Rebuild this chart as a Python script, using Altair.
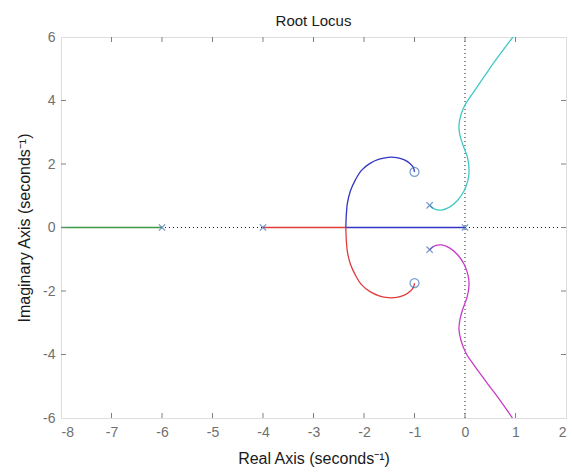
import altair as alt
import pandas as pd

# ---- data ----
green_x = [-6.0, -8.0]
green_y = [0.0, 0.0]

blue_line_x = [0.0, -2.36]
blue_line_y = [0.0, 0.0]
blue_x = [-2.36, -2.35, -2.33, -2.27, -2.17, -2.05, -1.88, -1.70, -1.52, -1.35, -1.20, -1.08, -1.02, -1.00]
blue_y = [0.0, 0.40, 0.75, 1.15, 1.50, 1.80, 2.02, 2.15, 2.21, 2.20, 2.13, 2.00, 1.88, 1.75]

red_line_x = [-4.0, -2.36]
red_line_y = [0.0, 0.0]
red_x = [-2.36, -2.35, -2.33, -2.27, -2.17, -2.05, -1.88, -1.70, -1.52, -1.35, -1.20, -1.08, -1.02, -1.00]
red_y = [0.0, -0.40, -0.75, -1.15, -1.50, -1.80, -2.02, -2.15, -2.21, -2.20, -2.13, -2.00, -1.88, -1.75]

cyan_x = [-0.70, -0.60, -0.46, -0.30, -0.15, -0.02, 0.06, 0.08, 0.05, -0.03, -0.10, -0.12, -0.08, 0.00, 0.12, 0.25, 0.40, 0.56, 0.75, 0.95]
cyan_y = [0.70, 0.58, 0.55, 0.65, 0.85, 1.15, 1.50, 1.80, 2.20, 2.55, 2.90, 3.20, 3.55, 3.86, 4.15, 4.45, 4.80, 5.17, 5.58, 6.00]

magenta_x = [-0.70, -0.60, -0.46, -0.30, -0.15, -0.02, 0.06, 0.08, 0.04, -0.04, -0.10, -0.12, -0.08, 0.02, 0.14, 0.30, 0.46, 0.63, 0.80, 0.94]
magenta_y = [-0.70, -0.58, -0.55, -0.65, -0.85, -1.15, -1.50, -1.80, -2.20, -2.55, -2.90, -3.20, -3.55, -3.96, -4.25, -4.60, -4.95, -5.30, -5.68, -6.00]

pole_x = [-6.0, -4.0, 0.0, -0.7, -0.7]
pole_y = [0.0, 0.0, 0.0, 0.7, -0.7]
zero_x = [-1.0, -1.0]
zero_y = [1.75, -1.75]

x_ticks = [-8, -7, -6, -5, -4, -3, -2, -1, 0, 1, 2]
y_ticks = [-6, -4, -2, 0, 2, 4, 6]

colors = {
    "green": "#3f9a48",
    "blue": "#3434c4",
    "red": "#e03c3c",
    "cyan": "#3ec9c6",
    "magenta": "#c63cc8",
}

W, H = 505, 381
FONT = "Liberation Sans"

rows = []
for name, color, xs_, ys_ in [("green", "green", green_x, green_y),
                              ("blue_line", "blue", blue_line_x, blue_line_y),
                              ("blue", "blue", blue_x, blue_y),
                              ("red_line", "red", red_line_x, red_line_y),
                              ("red", "red", red_x, red_y),
                              ("cyan", "cyan", cyan_x, cyan_y),
                              ("magenta", "magenta", magenta_x, magenta_y)]:
    for i, (a, b) in enumerate(zip(xs_, ys_)):
        rows.append({"branch": name, "color": color, "x": a, "y": b, "order": i})
branches = pd.DataFrame(rows)

xs = alt.Scale(domain=[-8, 2], nice=False, zero=False)
ys = alt.Scale(domain=[-6, 6], nice=False, zero=False)

x_axis = alt.Axis(values=x_ticks, title="Real Axis (seconds⁻¹)", grid=False, domain=False, tickSize=0,
                  labelPadding=7, labelFontSize=14, labelColor="#6f6f6f", labelFont=FONT,
                  labelExpr="toString(datum.value)",
                  titleFont=FONT, titleFontSize=16, titleFontWeight="normal", titleColor="#1a1a1a",
                  titlePadding=11)
y_axis = alt.Axis(values=y_ticks, title="Imaginary Axis (seconds⁻¹)", grid=False, domain=False, tickSize=0,
                  labelPadding=6, labelFontSize=14, labelColor="#6f6f6f", labelFont=FONT,
                  labelExpr="toString(datum.value)",
                  titleFont=FONT, titleFontSize=16, titleFontWeight="normal", titleColor="#1a1a1a",
                  titlePadding=10)

# dotted axes lines
zero_df = pd.DataFrame({"v": [0.0]})
hline = alt.Chart(zero_df).mark_rule(color="#222222", strokeDash=[1, 3], strokeWidth=1).encode(
    y=alt.Y("v:Q", scale=ys, axis=y_axis))
vline = alt.Chart(zero_df).mark_rule(color="#222222", strokeDash=[1, 3], strokeWidth=1).encode(
    x=alt.X("v:Q", scale=xs, axis=x_axis))

lines = alt.Chart(branches).mark_line(strokeWidth=1.3, interpolate="catmull-rom", clip=True).encode(
    x=alt.X("x:Q", scale=xs, axis=x_axis),
    y=alt.Y("y:Q", scale=ys, axis=y_axis),
    color=alt.Color("color:N", scale=alt.Scale(domain=list(colors.keys()),
                                               range=list(colors.values())), legend=None),
    detail="branch:N",
    order="order:Q",
)

poles = alt.Chart(pd.DataFrame({"x": pole_x, "y": pole_y})).mark_point(
    shape="M-1,-1L1,1M-1,1L1,-1", size=40, stroke="#3d6fb5", strokeWidth=1.3, filled=False).encode(
    x=alt.X("x:Q", scale=xs), y=alt.Y("y:Q", scale=ys))
zeros = alt.Chart(pd.DataFrame({"x": zero_x, "y": zero_y})).mark_point(
    shape="circle", size=80, stroke="#3d79b8", strokeWidth=1.3, filled=False).encode(
    x=alt.X("x:Q", scale=xs), y=alt.Y("y:Q", scale=ys))

# inward ticks on all four sides
xt = pd.DataFrame({"t": x_ticks[1:-1]})
yt = pd.DataFrame({"t": y_ticks[1:-1]})
tick_color = "#808080"
xt_bottom = alt.Chart(xt).mark_rule(color=tick_color).encode(
    x=alt.X("t:Q", scale=xs), y=alt.value(H), y2=alt.value(H - 5))
xt_top = alt.Chart(xt).mark_rule(color=tick_color).encode(
    x=alt.X("t:Q", scale=xs), y=alt.value(0), y2=alt.value(5))
yt_left = alt.Chart(yt).mark_rule(color=tick_color).encode(
    y=alt.Y("t:Q", scale=ys), x=alt.value(0), x2=alt.value(5))
yt_right = alt.Chart(yt).mark_rule(color=tick_color).encode(
    y=alt.Y("t:Q", scale=ys), x=alt.value(W), x2=alt.value(W - 5))

chart = alt.layer(hline, vline, lines, poles, zeros, xt_bottom, xt_top, yt_left, yt_right).properties(
    width=W, height=H,
    title=alt.TitleParams("Root Locus", font=FONT, fontSize=15, fontWeight="normal", color="#1a1a1a",
                          anchor="middle", offset=1),
    autosize=alt.AutoSizeParams(type="none"),
    padding={"left": 61, "top": 37, "right": 6, "bottom": 54},
).configure_view(stroke="#808080", strokeWidth=1).configure(background="white")

chart.save("out.html", embed_options={"renderer": "svg", "actions": False})
